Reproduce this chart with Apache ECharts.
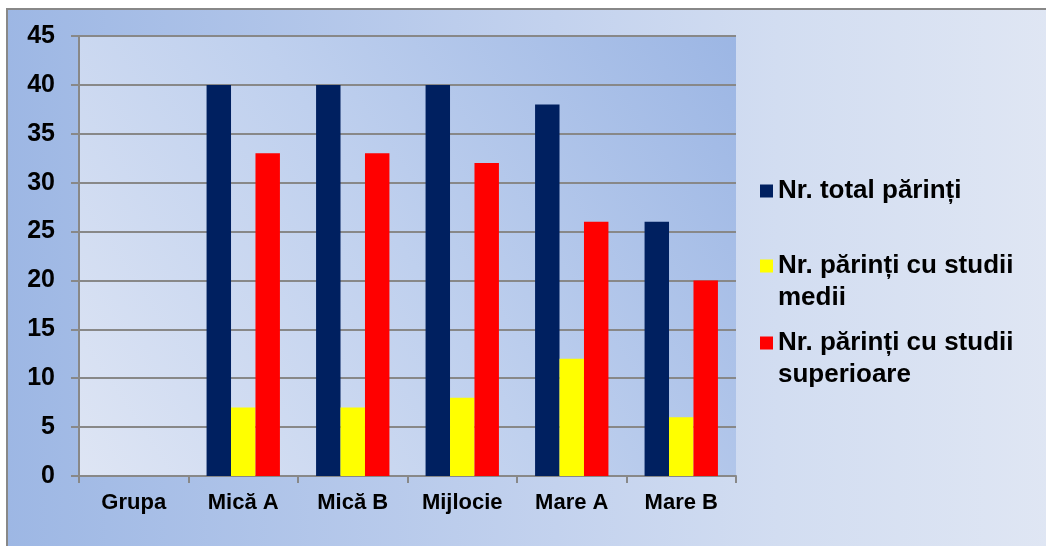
<!DOCTYPE html>
<html>
<head>
<meta charset="utf-8">
<script src="https://cdn.jsdelivr.net/npm/echarts@6/dist/echarts.min.js"></script>
<style>
html,body{margin:0;padding:0;background:#fff;}
#chart{width:1046px;height:546px;}
</style>
</head>
<body>
<div id="chart"></div>
<script>
const categories = ['Grupa', 'Mică A', 'Mică B', 'Mijlocie', 'Mare A', 'Mare B'];
const seriesNames = ['Nr. total părinți', 'Nr. părinți cu studii medii', 'Nr. părinți cu studii superioare'];
const totalParinti = [null, 40, 40, 40, 38, 26];
const studiiMedii = [null, 7, 7, 8, 12, 6];
const studiiSuperioare = [null, 33, 33, 32, 26, 20];
const legendLabels = ['Nr. total părinți', '\nNr. părinți cu studii\nmedii', '\nNr. părinți cu studii\nsuperioare'];
const yTicks = { min: 0, max: 45, interval: 5 };

const colors = ['#002060', '#FFFF00', '#FF0000'];
const font = 'Liberation Sans, Arial, sans-serif';

const chart = echarts.init(document.getElementById('chart'), null, { renderer: 'canvas' });

function mkLegend(i, top) {
  return {
    data: [seriesNames[i]],
    left: 760,
    top: top,
    padding: 0,
    orient: 'vertical',
    itemWidth: 13,
    itemHeight: 13,
    icon: 'rect',
    selectedMode: false,
    formatter: () => legendLabels[i],
    textStyle: {
      fontFamily: font, fontWeight: 'bold', fontSize: 26, color: '#000',
      lineHeight: 32
    }
  };
}

const option = {
  animation: false,
  backgroundColor: 'transparent',
  graphic: [{
    type: 'rect',
    z: -10,
    silent: true,
    shape: { x: 7, y: 9, width: 1100, height: 600 },
    style: {
      fill: new echarts.graphic.LinearGradient(0, 0, 1, 0, [
        { offset: 0, color: '#9DB7E4' },
        { offset: 0.5, color: '#C3D2EE' },
        { offset: 0.7, color: '#D2DDF1' },
        { offset: 1, color: '#E2E8F4' }
      ], false),
      stroke: '#888888',
      lineWidth: 2
    }
  }],
  grid: {
    left: 79, top: 36, right: 310, bottom: 70,
    show: true,
    borderWidth: 0,
    backgroundColor: new echarts.graphic.LinearGradient(0, 1, 1, 0, [
      { offset: 0, color: '#DEE5F4' },
      { offset: 0.5, color: '#BFD0EE' },
      { offset: 1, color: '#9CB6E4' }
    ], false)
  },
  legend: [
    mkLegend(0, 175),
    mkLegend(1, 218),
    mkLegend(2, 295)
  ],
  xAxis: {
    type: 'category',
    data: categories,
    axisLine: { show: true, lineStyle: { color: '#888888', width: 2 } },
    axisTick: { show: true, length: 7, alignWithLabel: false, lineStyle: { color: '#888888', width: 2 } },
    axisLabel: { interval: 0, margin: 16, fontFamily: font, fontWeight: 'bold', fontSize: 22, color: '#000' }
  },
  yAxis: {
    type: 'value',
    min: yTicks.min, max: yTicks.max, interval: yTicks.interval,
    axisLine: { show: true, lineStyle: { color: '#888888', width: 2 } },
    axisTick: { show: true, length: 8, lineStyle: { color: '#888888', width: 2 } },
    splitLine: { show: true, lineStyle: { color: '#888888', width: 2 } },
    axisLabel: { margin: 24, fontFamily: font, fontWeight: 'bold', fontSize: 25, color: '#000' }
  },
  series: [
    { name: seriesNames[0], type: 'bar', data: totalParinti, itemStyle: { color: colors[0] }, barGap: '0%', barCategoryGap: '33%' },
    { name: seriesNames[1], type: 'bar', data: studiiMedii, itemStyle: { color: colors[1] }, barGap: '0%', barCategoryGap: '33%' },
    { name: seriesNames[2], type: 'bar', data: studiiSuperioare, itemStyle: { color: colors[2] }, barGap: '0%', barCategoryGap: '33%' }
  ]
};
chart.setOption(option);
</script>
</body>
</html>
